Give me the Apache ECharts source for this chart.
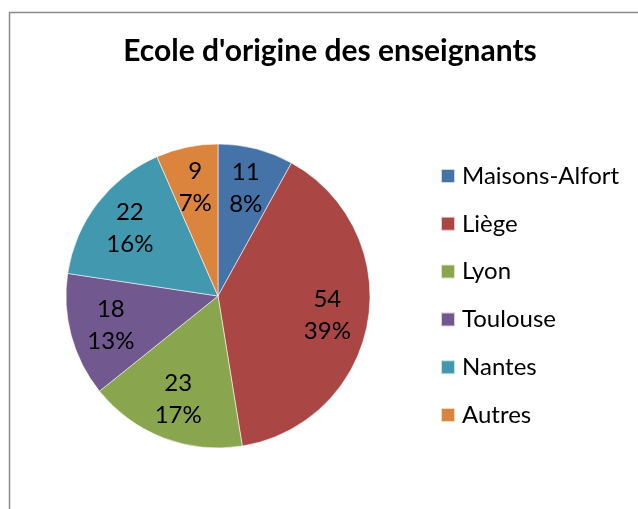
<!DOCTYPE html>
<html>
<head>
<meta charset="utf-8">
<script src="https://cdn.jsdelivr.net/npm/echarts@6/dist/echarts.min.js"></script>
<style>html,body{margin:0;padding:0;background:#fff;}#c{width:638px;height:509px;}</style>
</head>
<body>
<div id="c"></div>
<script>
var titleText = "Ecole d'origine des enseignants";
var categories = ["Maisons-Alfort", "Liège", "Lyon", "Toulouse", "Nantes", "Autres"];
var values = [11, 54, 23, 18, 22, 9];
var colors = ["#4572A7", "#AA4643", "#89A54E", "#71588F", "#4198AF", "#DB843D"];

var FONT = "Lato";
var data = categories.map(function (n, i) { return { name: n, value: values[i] }; });

var chart = echarts.init(document.getElementById('c'), null, { renderer: 'canvas' });
chart.setOption({
  animation: false,
  color: colors,
  title: {
    text: titleText,
    left: 330,
    top: 36,
    padding: 0,
    textAlign: 'center',
    textStyle: { fontFamily: FONT, fontWeight: 'bold', fontSize: 30, color: '#000' }
  },
  legend: {
    orient: 'vertical',
    left: 440,
    top: 164,
    padding: 0,
    icon: 'rect',
    itemWidth: 14,
    itemHeight: 14,
    itemGap: 23.8,
    data: categories,
    textStyle: { fontFamily: FONT, fontSize: 24, color: '#000', lineHeight: 24, padding: [0, 0, 0, 2] }
  },
  graphic: [{
    type: 'rect',
    shape: { x: 9.5, y: 12.5, width: 700, height: 600 },
    style: { fill: 'none', stroke: '#8a8a8a', lineWidth: 1.5 },
    silent: true
  }],
  series: [{
    type: 'pie',
    center: [218, 296],
    radius: 152,
    startAngle: 90,
    clockwise: true,
    data: data,
    label: { show: false },
    labelLine: { show: false },
    itemStyle: { borderColor: 'rgba(255,255,255,0.7)', borderWidth: 0.8 },
    emphasis: { disabled: true }
  }, {
    type: 'pie',
    center: [218, 296],
    radius: [64, 152],
    startAngle: 90,
    clockwise: true,
    silent: true,
    legendHoverLink: false,
    data: data,
    itemStyle: { color: 'rgba(0,0,0,0)', borderWidth: 0 },
    label: {
      show: true,
      position: 'inside',
      fontFamily: FONT,
      fontSize: 24,
      lineHeight: 32,
      color: '#000',
      formatter: function (p) { return p.value + '\n' + Math.round(p.percent) + '%'; }
    },
    labelLine: { show: false },
    emphasis: { disabled: true }
  }]
});
</script>
</body>
</html>
